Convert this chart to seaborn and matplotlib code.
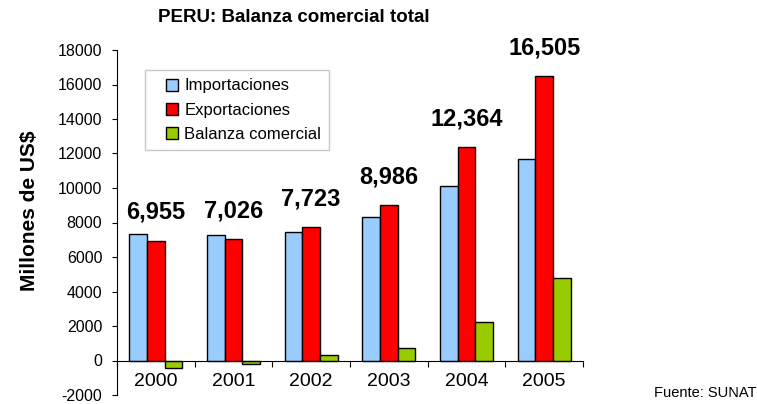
import matplotlib
matplotlib.use("Agg")
import matplotlib.pyplot as plt
from matplotlib.lines import Line2D
import seaborn as sns
import pandas as pd
import numpy as np

years = ["2000", "2001", "2002", "2003", "2004", "2005"]
importaciones = [7330, 7250, 7425, 8290, 10120, 11670]
exportaciones = [6955, 7026, 7723, 8986, 12364, 16505]
balanza = [-420, -175, 295, 740, 2230, 4800]
export_labels = ["6,955", "7,026", "7,723", "8,986", "12,364", "16,505"]
series = ["Importaciones", "Exportaciones", "Balanza comercial"]
colors = ["#99CCFF", "#FF0000", "#99CC00"]
yticks = list(range(-2000, 18001, 2000))

df = pd.DataFrame({
    "year": years * 3,
    "value": importaciones + exportaciones + balanza,
    "serie": [series[0]] * 6 + [series[1]] * 6 + [series[2]] * 6,
})

sns.set_theme(style="white")
plt.rcParams['font.family'] = ['Liberation Sans', 'DejaVu Sans']
plt.rcParams['text.color'] = 'black'
plt.rcParams['axes.labelcolor'] = 'black'
plt.rcParams['xtick.color'] = 'black'
plt.rcParams['ytick.color'] = 'black'

fig = plt.figure(figsize=(7.57, 4.04), dpi=100)
ax = fig.add_axes([117/757, 1 - 395/404, (583-117)/757, (395-50)/404])

sns.barplot(data=df, x="year", y="value", hue="serie", hue_order=series,
            palette=colors, width=0.68, gap=0, edgecolor="black",
            linewidth=1.0, ax=ax, errorbar=None, saturation=1)

ax.set_ylim(-2000, 18000)
ax.set_xlim(-0.5, 5.5)
ax.set_yticks(yticks)
ax.set_yticklabels([str(t) for t in yticks], fontsize=11.5)
ax.tick_params(axis="y", direction="out", length=3.6, width=0.8, color="black", pad=7, left=True)

for s in ["top", "right"]:
    ax.spines[s].set_visible(False)
ax.spines["left"].set_color("black")
ax.spines["left"].set_linewidth(0.8)
ax.spines["bottom"].set_position(("data", 0))
ax.spines["bottom"].set_color("black")
ax.spines["bottom"].set_linewidth(0.8)

ax.set_xticks(range(6))
ax.set_xticklabels(years, fontsize=14)
ax.set_xticks(np.arange(-0.5, 6.0, 1.0), minor=True)
ax.tick_params(axis="x", which="major", length=0, pad=9, bottom=True)
ax.tick_params(axis="x", which="minor", direction="out", length=4.5, width=0.8, color="black", bottom=True)

ax.set_xlabel("")
ax.set_ylabel("Millones de US$", fontsize=15, fontweight="bold")
ax.yaxis.set_label_coords(-0.168, 0.535)

for i, (v, lab) in enumerate(zip(exportaciones, export_labels)):
    ax.annotate(lab, xy=(i, v), xytext=(0, 12), textcoords="offset points",
                ha="center", va="bottom", fontsize=17, fontweight="bold")

handles = [Line2D([], [], marker="s", markersize=8, markerfacecolor=c,
                  markeredgecolor="black", markeredgewidth=1.0, linestyle="none")
           for c in colors]
leg = ax.legend(handles, series, loc="upper left",
                bbox_to_anchor=((145-117)/466, (395-70)/345),
                fontsize=12, frameon=True, fancybox=False, handlelength=2.2,
                handletextpad=-0.35, borderpad=0.5,
                labelspacing=0.55, borderaxespad=0)
leg.get_frame().set_edgecolor("#BBBBBB")
leg.get_frame().set_linewidth(1.0)

fig.text(294/757, 1 - 17/404, "PERU: Balanza comercial total", ha="center", va="center",
         fontsize=13.5, fontweight="bold")
fig.text(705/757, 1 - 393/404, "Fuente: SUNAT", ha="center", va="center", fontsize=10.5)

fig.savefig("out.png", dpi=100)
